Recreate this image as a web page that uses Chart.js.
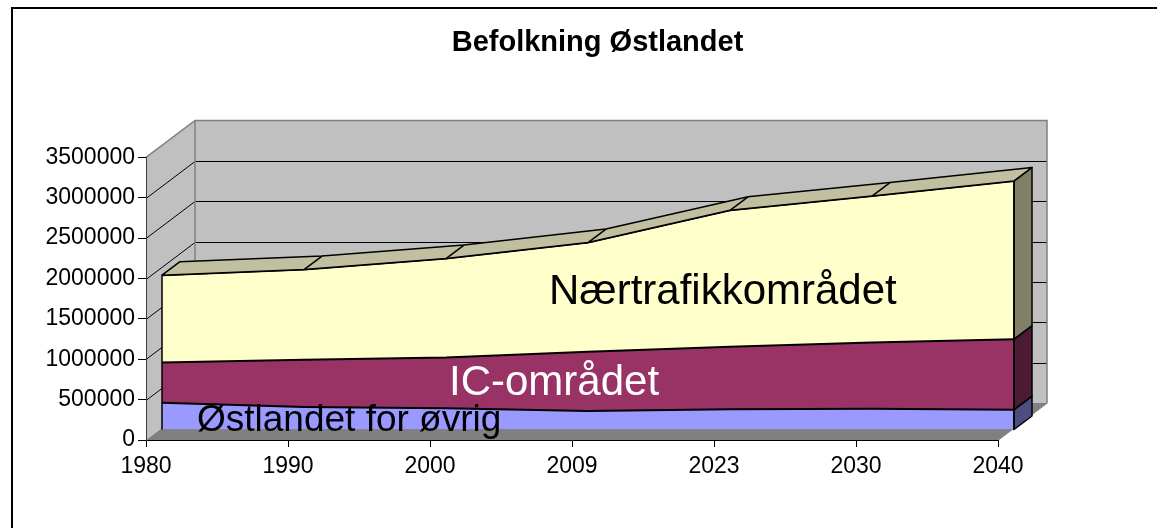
<!DOCTYPE html>
<html>
<head>
<meta charset="utf-8">
<script src="https://cdn.jsdelivr.net/npm/chart.js@4.4.1/dist/chart.umd.min.js"></script>
<style>
  html, body { margin: 0; padding: 0; background: #ffffff; }
  #wrap { position: relative; width: 1157px; height: 528px; }
</style>
</head>
<body>
<div id="wrap"><canvas id="c"></canvas></div>
<script>
// ---- data ----
const years = ['1980', '1990', '2000', '2009', '2023', '2030', '2040'];
const ostlandetOvrig = [331000, 278000, 262000, 229000, 250000, 257000, 245000];
const icOmradet = [500000, 585000, 631000, 733000, 774000, 821000, 874000];
const naertrafikk = [1080000, 1118000, 1224000, 1353000, 1691000, 1813000, 1958000];
const seriesNames = ['Østlandet for øvrig', 'IC-området', 'Nærtrafikkområdet'];
const chartTitle = 'Befolkning Østlandet';
const yMax = 3500000;
const yStep = 500000;

const FONT = "'Liberation Sans', Arial, Helvetica, sans-serif";

const threeD = {
  id: 'threeD',
  beforeDraw(chart, args, o) {
    const ctx = chart.ctx;
    const a = chart.chartArea;
    const ys = chart.scales.y;
    const y0 = ys.getPixelForValue(0);
    const yT = ys.getPixelForValue(ys.max);
    const xl = a.left, xr = a.right;
    const bx = o.wallDx, by = o.wallDy;
    ctx.save();
    // outer frame
    ctx.strokeStyle = '#000';
    ctx.lineWidth = 2;
    ctx.beginPath();
    ctx.moveTo(o.frameX, chart.height);
    ctx.lineTo(o.frameX, o.frameY);
    ctx.lineTo(chart.width, o.frameY);
    ctx.stroke();
    // back wall
    ctx.fillStyle = o.wallColor;
    ctx.fillRect(xl + bx, yT + by, xr - xl, y0 - yT);
    // side wall
    ctx.beginPath();
    ctx.moveTo(xl, yT); ctx.lineTo(xl + bx, yT + by);
    ctx.lineTo(xl + bx, y0 + by); ctx.lineTo(xl, y0);
    ctx.closePath(); ctx.fill();
    // floor
    ctx.fillStyle = o.floorColor;
    ctx.beginPath();
    ctx.moveTo(xl, y0); ctx.lineTo(xr, y0);
    ctx.lineTo(xr + bx, y0 + by); ctx.lineTo(xl + bx, y0 + by);
    ctx.closePath(); ctx.fill();
    // grid lines on walls
    ctx.lineWidth = 1;
    ctx.strokeStyle = o.gridColor;
    ys.ticks.forEach(t => {
      if (t.value <= 0 || t.value >= ys.max) return;
      const py = Math.round(ys.getPixelForValue(t.value)) + 0.5;
      ctx.beginPath();
      ctx.moveTo(xl, py); ctx.lineTo(xl + bx, py + by);
      ctx.lineTo(xr + bx, py + by);
      ctx.stroke();
    });
    // wall borders
    ctx.strokeStyle = o.wallBorder;
    ctx.lineWidth = 1.5;
    ctx.beginPath();
    ctx.moveTo(xl, yT); ctx.lineTo(xl + bx, yT + by);
    ctx.lineTo(xr + bx, yT + by); ctx.lineTo(xr + bx, y0 + by);
    ctx.lineTo(xr, y0);
    ctx.moveTo(xl + bx, yT + by); ctx.lineTo(xl + bx, y0 + by);
    ctx.stroke();
    ctx.restore();
  },
  beforeDatasetsDraw(chart, args, o) {
    chart.ctx.save();
    chart.ctx.translate(o.dx, o.dy);
  },
  afterDatasetsDraw(chart, args, o) {
    const ctx = chart.ctx;
    const ys = chart.scales.y;
    const metas = chart.data.datasets.map((d, i) => chart.getDatasetMeta(i));
    const top = metas[metas.length - 1].data;
    const n = top.length;
    const ddx = o.depthDx, ddy = o.depthDy;
    const base = ys.getPixelForValue(0);
    ctx.lineJoin = 'round';
    ctx.strokeStyle = '#000';
    ctx.lineWidth = 1.5;
    // top face of the upper series
    ctx.fillStyle = o.topColor;
    ctx.beginPath();
    ctx.moveTo(top[0].x, top[0].y);
    for (let j = 1; j < n; j++) ctx.lineTo(top[j].x, top[j].y);
    for (let j = n - 1; j >= 0; j--) ctx.lineTo(top[j].x + ddx, top[j].y + ddy);
    ctx.closePath();
    ctx.fill(); ctx.stroke();
    for (let j = 1; j < n - 1; j++) {
      ctx.beginPath();
      ctx.moveTo(top[j].x, top[j].y);
      ctx.lineTo(top[j].x + ddx, top[j].y + ddy);
      ctx.stroke();
    }
    // right side faces
    metas.forEach((m, i) => {
      const p = m.data[n - 1];
      const yb = i === 0 ? base : metas[i - 1].data[n - 1].y;
      ctx.fillStyle = o.sideColors[i];
      ctx.beginPath();
      ctx.moveTo(p.x, yb); ctx.lineTo(p.x, p.y);
      ctx.lineTo(p.x + ddx, p.y + ddy); ctx.lineTo(p.x + ddx, yb + ddy);
      ctx.closePath();
      ctx.fill(); ctx.stroke();
    });
    // front vertical edges
    ctx.beginPath();
    ctx.moveTo(top[0].x, base); ctx.lineTo(top[0].x, top[0].y);
    ctx.moveTo(top[n - 1].x, base); ctx.lineTo(top[n - 1].x, top[n - 1].y);
    ctx.stroke();
    ctx.restore();
    // series name labels
    ctx.save();
    ctx.textBaseline = 'alphabetic';
    ctx.textAlign = 'left';
    o.labels.forEach(l => {
      ctx.font = l.size + 'px ' + FONT;
      ctx.fillStyle = l.color;
      ctx.fillText(chart.data.datasets[l.ds].label, l.x, l.y);
    });
    ctx.restore();
  }
};

const ds = (label, data, color, fill) => ({
  label, data, fill,
  backgroundColor: color,
  borderColor: '#000',
  borderWidth: 2,
  pointRadius: 0,
  pointHoverRadius: 0,
  tension: 0,
  clip: false
});

new Chart(document.getElementById('c'), {
  type: 'line',
  data: {
    labels: years,
    datasets: [
      ds(seriesNames[0], ostlandetOvrig, '#9999FF', 'origin'),
      ds(seriesNames[1], icOmradet, '#993366', '-1'),
      ds(seriesNames[2], naertrafikk, '#FFFFCC', '-1')
    ]
  },
  plugins: [threeD],
  options: {
    responsive: true,
    maintainAspectRatio: false,
    animation: false,
    devicePixelRatio: 1,
    layout: { padding: { left: 38, right: 0, top: 0, bottom: 0 } },
    plugins: {
      legend: { display: false },
      tooltip: { enabled: false },
      title: {
        display: true,
        text: chartTitle,
        color: '#000',
        font: { family: FONT, size: 29, weight: 'bold', lineHeight: 1.2 },
        padding: { top: 26, bottom: 96.6 }
      },
      threeD: {
        dx: 16, dy: -10.5,
        depthDx: 18, depthDy: -13.5,
        wallDx: 49, wallDy: -37,
        frameX: 12, frameY: 8,
        wallColor: '#C0C0C0',
        floorColor: '#808080',
        gridColor: '#000000',
        wallBorder: '#808080',
        topColor: '#C0C0A0',
        sideColors: ['#4D4D80', '#4D1A33', '#808066'],
        labels: [
          { ds: 2, x: 549, y: 304, size: 42, color: '#000' },
          { ds: 1, x: 449, y: 395, size: 42, color: '#fff' },
          { ds: 0, x: 197, y: 431, size: 37, color: '#000' }
        ]
      }
    },
    scales: {
      x: {
        type: 'category',
        offset: false,
        grid: { display: true, drawOnChartArea: false, drawTicks: true, tickLength: 7, color: '#000' },
        border: { display: true, color: '#000', width: 1 },
        ticks: { color: '#000', font: { family: FONT, size: 23 }, padding: 6, maxRotation: 0, autoSkip: false },
        afterFit(s) { s.height = 88; }
      },
      y: {
        stacked: true,
        min: 0,
        max: yMax,
        grid: { display: true, drawOnChartArea: false, drawTicks: true, tickLength: 8, color: '#000' },
        border: { display: true, color: '#404040', width: 1 },
        ticks: {
          stepSize: yStep,
          color: '#000',
          font: { family: FONT, size: 23 },
          padding: 3,
          callback: v => String(v)
        },
        afterFit(s) { s.width = 108; }
      },
      yRight: {
        type: 'linear',
        position: 'right',
        display: true,
        grid: { display: false, drawTicks: false },
        border: { display: false },
        ticks: { display: false },
        afterFit(s) { s.width = 159; }
      }
    }
  }
});
</script>
</body>
</html>
